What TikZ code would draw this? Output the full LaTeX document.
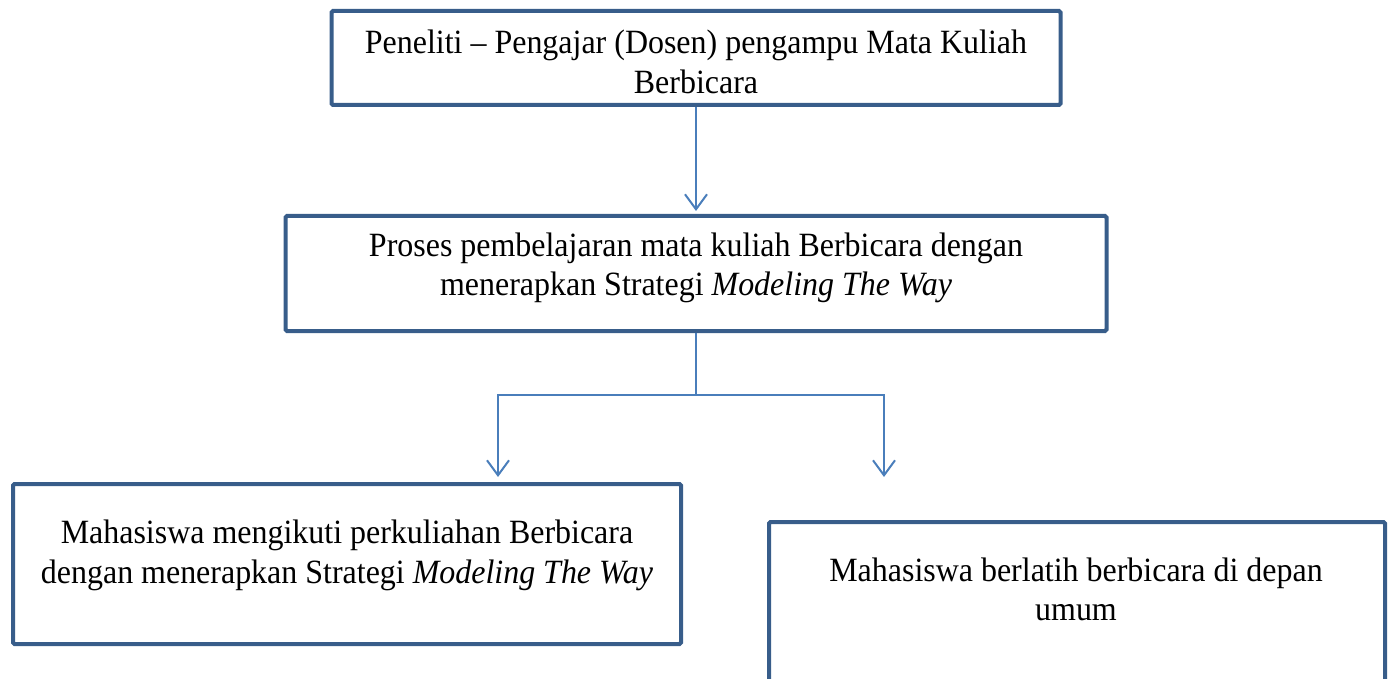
\documentclass[tikz,border=0pt]{standalone}
\usepackage{fontspec}
\setmainfont[FakeStretch=0.94]{Liberation Serif}
\usepackage{tikz}
\usetikzlibrary{positioning,arrows.meta}
\usepackage{xcolor}
\definecolor{boxblue}{RGB}{56,93,138}
\definecolor{linkblue}{RGB}{74,126,187}

\begin{document}
\begin{tikzpicture}[x=1pt, y=-1pt,
    every node/.style={font=\fontsize{34}{39.5}\selectfont},
    box/.style={draw=boxblue, line width=4pt, rounded corners=1.5pt, inner sep=0pt},
    txt/.style={align=center, inner sep=0pt},
    link/.style={draw=linkblue, line width=2pt},
    arrow/.style={link, -{Straight Barb[length=15pt, width=22pt, line width=2pt]}}]
    \clip (0,0) rectangle (1392,679);
    % Boxes
    \node[box, minimum width=729, minimum height=94] (dosen) at (696,58) {};
    \node[box, minimum width=821, minimum height=115] (proses) at (696,273.5) {};
    \node[box, minimum width=668, minimum height=160] (ikut) at (347,564) {};
    \node[box, minimum width=616, minimum height=200, anchor=north] (latih) at (1077,520) {};
    % Texts
    \node[txt] (dosentext) at (696,62)
        {Peneliti -- Pengajar (Dosen) pengampu Mata Kuliah\\ Berbicara};
    \node[txt] (prosestext) at (696,268)
        {Proses pembelajaran mata kuliah Berbicara dengan\\ menerapkan Strategi \textit{Modeling The Way}};
    \node[txt] (ikuttext) at (347,555.5)
        {Mahasiswa mengikuti perkuliahan Berbicara\\ dengan menerapkan Strategi \textit{Modeling The Way}};
    \node[txt] (latihtext) at (1076,589.5)
        {Mahasiswa berlatih berbicara di depan\\ umum};
    % Arrows
    \coordinate (ikutend) at (498,477);
    \coordinate (latihend) at (884,477);
    \draw[arrow, shorten >=3pt] (dosen.south) -- (proses.north);
    \draw[link] (proses.south) -- ++(0,62) coordinate (fork);
    \draw[arrow] (fork) -| (ikutend);
    \draw[arrow] (fork) -| (latihend);
\end{tikzpicture}
\end{document}
